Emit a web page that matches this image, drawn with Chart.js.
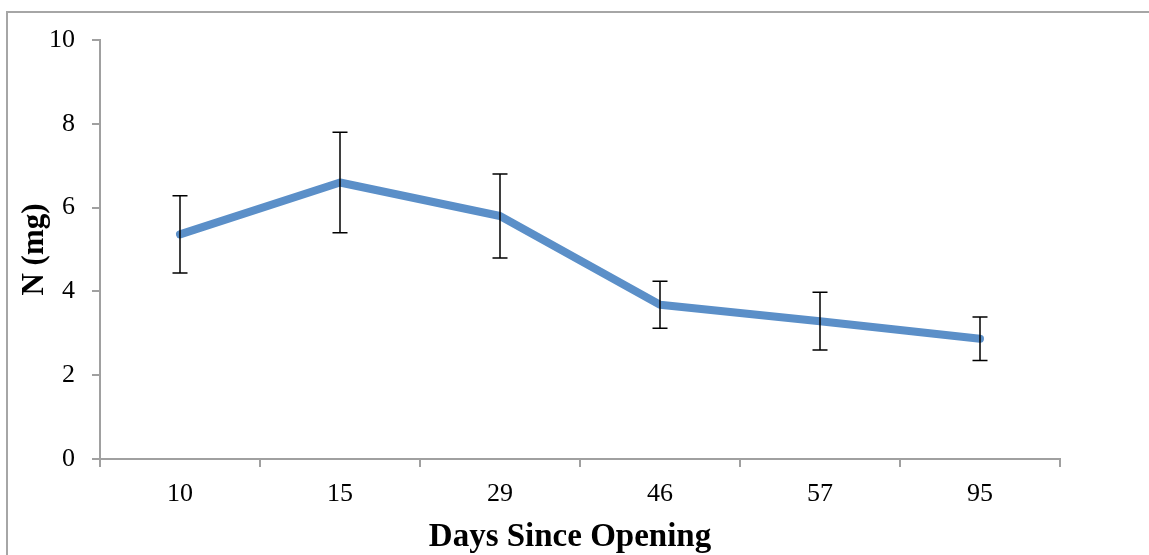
<!DOCTYPE html>
<html>
<head>
<meta charset="utf-8">
<script src="https://cdn.jsdelivr.net/npm/chart.js@4"></script>
<style>
  html, body { margin: 0; padding: 0; background: #fff; overflow: hidden; }
  canvas { display: block; }
</style>
</head>
<body>
<canvas id="chartN" width="1149" height="555"></canvas>
<script>
// datos
var dias = ["10", "15", "29", "46", "57", "95"];
var nitrogeno = [5.36, 6.6, 5.8, 3.68, 3.29, 2.87];
var errores = [0.92, 1.2, 1.0, 0.56, 0.69, 0.52];
var ticksY = [0, 2, 4, 6, 8, 10];

var fuente = "'Liberation Serif', 'Times New Roman', serif";
var gris = "#a0a0a0";

// marco del grafico (solo arriba e izquierda quedan visibles)
var marco = {
  id: "marco",
  beforeDraw: function (chart) {
    var ctx = chart.ctx;
    ctx.save();
    ctx.strokeStyle = "#a6a6a6";
    ctx.lineWidth = 2;
    ctx.beginPath();
    ctx.moveTo(7, chart.height);
    ctx.lineTo(7, 12);
    ctx.lineTo(chart.width, 12);
    ctx.stroke();
    ctx.restore();
  },
};

// barras de error dibujadas con las escalas del grafico
var barrasError = {
  id: "barrasError",
  afterDatasetsDraw: function (chart) {
    var ctx = chart.ctx;
    var x = chart.scales.x;
    var y = chart.scales.y;
    ctx.save();
    ctx.strokeStyle = "#000";
    ctx.lineWidth = 1.5;
    for (var i = 0; i < nitrogeno.length; i++) {
      var px = x.getPixelForValue(i);
      var top = y.getPixelForValue(nitrogeno[i] + errores[i]);
      var bot = y.getPixelForValue(nitrogeno[i] - errores[i]);
      ctx.beginPath();
      ctx.moveTo(px, top);
      ctx.lineTo(px, bot);
      ctx.moveTo(px - 7.5, top);
      ctx.lineTo(px + 7.5, top);
      ctx.moveTo(px - 7.5, bot);
      ctx.lineTo(px + 7.5, bot);
      ctx.stroke();
    }
    ctx.restore();
  },
};

// titulo del eje X (centrado en todo el grafico, como en Excel)
var tituloX = {
  id: "tituloX",
  afterDraw: function (chart) {
    var ctx = chart.ctx;
    ctx.save();
    ctx.fillStyle = "#000";
    ctx.font = "bold 33px " + fuente;
    ctx.textAlign = "center";
    ctx.textBaseline = "alphabetic";
    ctx.fillText("Days Since Opening", 570, 546);
    ctx.restore();
  },
};

var ctx = document.getElementById("chartN").getContext("2d");
var chartN = new Chart(ctx, {
  type: "line",
  data: {
    labels: dias,
    datasets: [
      {
        data: nitrogeno,
        borderColor: "#5b8fc8",
        borderWidth: 8,
        borderCapStyle: "round",
        borderJoinStyle: "round",
        pointRadius: 0,
        tension: 0,
        fill: false,
      },
    ],
  },
  options: {
    responsive: false,
    animation: false,
    layout: {
      padding: { left: 0, right: 89, top: 40, bottom: 0 },
    },
    plugins: {
      legend: { display: false },
      tooltip: { enabled: false },
    },
    scales: {
      x: {
        offset: true,
        grid: {
          offset: true,
          drawOnChartArea: false,
          drawTicks: true,
          tickLength: 8,
          color: gris,
          lineWidth: 2,
        },
        border: { display: true, color: gris, width: 2 },
        ticks: {
          color: "#000",
          font: { family: fuente, size: 26 },
          padding: 12,
        },
        afterFit: function (scale) {
          scale.height = 96;
        },
      },
      y: {
        min: 0,
        max: 10,
        afterBuildTicks: function (scale) {
          scale.ticks = ticksY.map(function (v) { return { value: v }; });
        },
        grid: {
          drawOnChartArea: false,
          drawTicks: true,
          tickLength: 8,
          color: gris,
          lineWidth: 2,
        },
        border: { display: true, color: gris, width: 2 },
        ticks: {
          color: "#000",
          font: { family: fuente, size: 26 },
          padding: 17,
        },
        title: {
          display: true,
          text: "N (mg)",
          color: "#000",
          font: { family: fuente, size: 31, weight: "bold" },
          padding: { top: 16, bottom: 0 },
        },
        afterFit: function (scale) {
          scale.width = 100;
        },
      },
    },
  },
  plugins: [marco, barrasError, tituloX],
});
</script>
</body>
</html>
